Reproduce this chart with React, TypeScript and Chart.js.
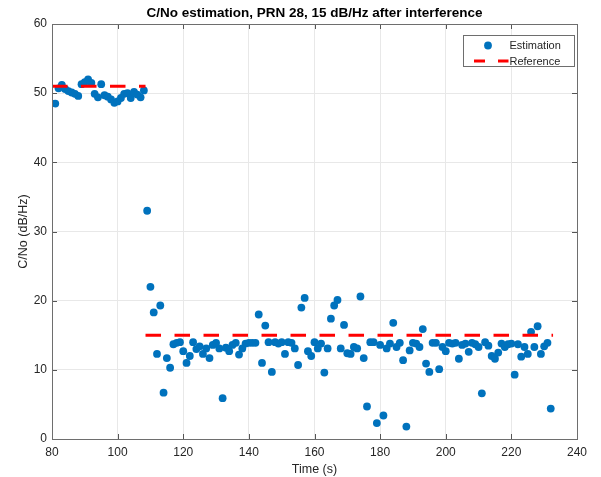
import React, { useEffect, useRef } from "react";
import { Chart, registerables } from "chart.js";

Chart.register(...registerables);

const TITLE = "C/No estimation, PRN 28, 15 dB/Hz after interference";
const X_LABEL = "Time (s)";
const Y_LABEL = "C/No (dB/Hz)";
const X_TICKS = [80, 100, 120, 140, 160, 180, 200, 220, 240];
const Y_TICKS = [0, 10, 20, 30, 40, 50, 60];

// C/No estimates, one per second starting at SAMPLE_START
const SAMPLE_START = 81;
const SAMPLE_STEP = 1;
const estimationBefore = [
  48.5, 50.7, 51.2, 50.6, 50.3, 50.1, 49.9, 49.6, 51.3, 51.6,
  52.0, 51.5, 49.9, 49.4, 51.3, 49.7, 49.5, 49.1, 48.6, 48.8,
  49.3, 49.9, 50.0, 49.3, 50.2, 49.8, 49.4, 50.4,
];
const estimationAfter = [
  33.0, 22.0, 18.3, 12.3, 19.3, 6.7, 11.7, 10.3, 13.7, 13.9,
  14.0, 12.7, 11.0, 12.0, 14.0, 13.0, 13.4, 12.3, 13.1, 11.7,
  13.6, 13.9, 13.1, 5.9, 13.2, 12.7, 13.6, 13.9, 12.2, 13.1,
  13.8, 13.9, 13.9, 13.9, 18.0, 11.0, 16.4, 14.0, 9.7, 14.0,
  13.8, 14.0, 12.3, 14.0, 13.9, 13.1, 10.7, 19.0, 20.4, 12.7,
  12.0, 14.0, 13.1, 13.8, 9.6, 13.1, 17.4, 19.3, 20.1, 13.1,
  16.5, 12.4, 12.3, 13.3, 13.1, 20.6, 11.7, 4.7, 14.0, 14.0,
  2.3, 13.6, 3.4, 13.1, 13.8, 16.8, 13.3, 13.9, 11.4, 1.8,
  12.8, 13.9, 13.8, 13.3, 15.9, 10.9, 9.7, 13.9, 13.9, 10.1,
  13.3, 12.7, 13.9, 13.8, 13.9, 11.6, 13.6, 13.8, 12.6, 13.9,
  13.7, 13.3, 6.6, 14.0, 13.5, 12.0, 11.6, 12.5, 13.8, 13.3,
  13.7, 13.8, 9.3, 13.7, 11.9, 13.3, 12.3, 15.5, 13.3, 16.3,
  12.3, 13.4, 13.9, 4.4,
];

// Nominal C/No before and after the interference starts
const referenceLevels = [51, 15];
const referenceSpans = [
  [80, 108.5],
  [108.5, 232.7],
];

const BLUE = "#0072BD";
const RED = "#ff0000";
const FONT = "'Liberation Sans', Arial, Helvetica, sans-serif";
const TEXT = "#262626";

const estimationPoints = [...estimationBefore, ...estimationAfter].map((v, i) => ({
  x: SAMPLE_START + i * SAMPLE_STEP,
  y: v,
}));

const referenceDatasets = referenceLevels.map((level, i) => ({
  label: "Reference",
  type: "line" as const,
  data: referenceSpans[i].map((t) => ({ x: t, y: level })),
  borderColor: RED,
  borderWidth: 3,
  borderDash: [15.5, 13.5],
  borderCapStyle: "butt" as const,
  pointRadius: 0,
  showLine: true,
  fill: false,
  order: 0,
}));

const decorations = {
  id: "decorations",
  afterDatasetsDraw(chart: any) {
    const { ctx, chartArea, scales } = chart;
    const { left, right, top, bottom } = chartArea;
    const x = scales.x;
    const y = scales.y;
    ctx.save();

    // inward tick marks on all four sides
    ctx.strokeStyle = "#555555";
    ctx.lineWidth = 1;
    ctx.beginPath();
    for (const v of X_TICKS) {
      const px = Math.round(x.getPixelForValue(v)) + 0.5;
      ctx.moveTo(px, bottom);
      ctx.lineTo(px, bottom - 5);
      ctx.moveTo(px, top);
      ctx.lineTo(px, top + 5);
    }
    for (const v of Y_TICKS) {
      const py = Math.round(y.getPixelForValue(v)) + 0.5;
      ctx.moveTo(left, py);
      ctx.lineTo(left + 5, py);
      ctx.moveTo(right, py);
      ctx.lineTo(right - 5, py);
    }
    ctx.stroke();

    // axes box
    ctx.strokeStyle = "#6e6e6e";
    ctx.strokeRect(Math.round(left) + 0.5, Math.round(top) + 0.5, Math.round(right - left), Math.round(bottom - top));

    // title
    ctx.fillStyle = "#000000";
    ctx.font = `bold 13.5px ${FONT}`;
    ctx.textAlign = "center";
    ctx.textBaseline = "alphabetic";
    ctx.fillText(TITLE, (left + right) / 2, top - 7);

    // legend
    const bx = 463.5;
    const by = 35.5;
    const bw = 111;
    const bh = 31;
    ctx.fillStyle = "#ffffff";
    ctx.fillRect(bx, by, bw, bh);
    ctx.strokeStyle = "#6e6e6e";
    ctx.strokeRect(bx, by, bw, bh);

    ctx.fillStyle = BLUE;
    ctx.beginPath();
    ctx.arc(488, 45.5, 3.9, 0, Math.PI * 2);
    ctx.fill();

    ctx.fillStyle = RED;
    ctx.fillRect(474, 59.5, 11, 3);
    ctx.fillRect(498, 59.5, 10.5, 3);

    ctx.fillStyle = TEXT;
    ctx.font = `11px ${FONT}`;
    ctx.textAlign = "left";
    ctx.textBaseline = "middle";
    ctx.fillText("Estimation", 509.5, 46);
    ctx.fillText("Reference", 509.5, 61.5);

    ctx.restore();
  },
};

export default function App() {
  const canvasRef = useRef<HTMLCanvasElement | null>(null);

  useEffect(() => {
    if (!canvasRef.current) return;
    const chart = new Chart(canvasRef.current, {
      type: "scatter",
      data: {
        datasets: [
          {
            label: "Estimation",
            data: estimationPoints,
            backgroundColor: BLUE,
            borderColor: BLUE,
            borderWidth: 0,
            pointRadius: 3.9,
            pointHoverRadius: 3.9,
            order: 1,
          } as any,
          ...referenceDatasets,
        ],
      },
      options: {
        animation: false,
        responsive: true,
        maintainAspectRatio: false,
        devicePixelRatio: 1,
        events: [],
        layout: { padding: { top: 24, right: 24, left: 0, bottom: 0 } },
        font: { family: FONT },
        plugins: {
          legend: { display: false },
          title: { display: false },
          tooltip: { enabled: false },
        },
        scales: {
          x: {
            type: "linear",
            min: 80,
            max: 240,
            afterBuildTicks: (scale: any) => {
              scale.ticks = X_TICKS.map((v) => ({ value: v }));
            },
            afterFit: (scale: any) => {
              scale.height = 38;
            },
            grid: { color: "#e8e8e8", drawTicks: false },
            border: { display: false },
            ticks: {
              color: TEXT,
              padding: 6,
              maxRotation: 0,
              font: { family: FONT, size: 12 },
            },
            title: {
              display: true,
              text: X_LABEL,
              color: TEXT,
              font: { family: FONT, size: 12.5 },
              padding: { top: 5, bottom: 0 },
            },
          },
          y: {
            type: "linear",
            min: 0,
            max: 60,
            afterBuildTicks: (scale: any) => {
              scale.ticks = Y_TICKS.map((v) => ({ value: v }));
            },
            afterFit: (scale: any) => {
              scale.width = 52;
            },
            grid: { color: "#e8e8e8", drawTicks: false },
            border: { display: false },
            ticks: {
              color: TEXT,
              padding: 5,
              font: { family: FONT, size: 12 },
            },
            title: {
              display: true,
              text: Y_LABEL,
              color: TEXT,
              font: { family: FONT, size: 12.5 },
              padding: { top: 16, bottom: 0 },
            },
          },
        },
      },
      plugins: [decorations],
    });
    return () => chart.destroy();
  }, []);

  return (
    <div style={{ position: "absolute", left: 0, top: 0, width: 601, height: 477, background: "#ffffff" }}>
      <canvas ref={canvasRef} />
    </div>
  );
}
